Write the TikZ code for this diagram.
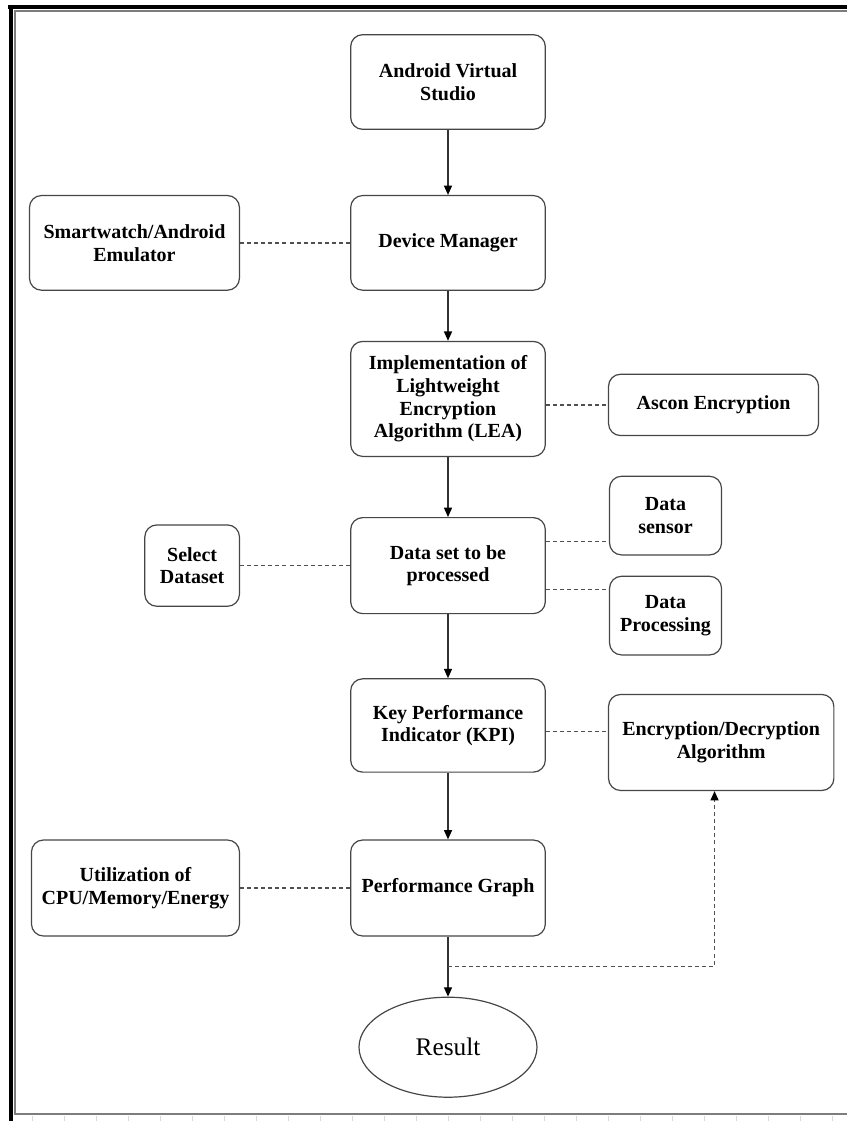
\documentclass[tikz,border=0pt]{standalone}
\usepackage{fontspec}
\setmainfont{Liberation Serif}
\usetikzlibrary{arrows.meta,positioning,shapes.geometric,calc}
\definecolor{cLine}{RGB}{70,70,70}
\definecolor{cDash}{RGB}{80,80,80}
\definecolor{cFrame}{RGB}{125,125,125}
\tikzset{
  box/.style={draw=cLine, line width=0.9pt, rounded corners=9pt, fill=white,
              minimum width=146pt, minimum height=71pt, align=center,
              font=\fontsize{15}{17}\selectfont\bfseries, inner sep=2pt},
  side/.style={box, minimum width=157.5pt},
  small/.style={box, minimum width=84pt, minimum height=59pt},
  res/.style={ellipse, draw=cLine, line width=0.9pt, minimum width=133.5pt,
              minimum height=75pt, font=\fontsize{19}{21}\selectfont},
  arr/.style={-{Triangle[length=7pt,width=6pt,color=black]}, draw=black!80, line width=1pt},
  link/.style={draw=cDash, line width=1.1pt, dash pattern=on 3pt off 2.3pt},
}

\begin{document}
\begin{tikzpicture}
  \useasboundingbox (0,0) rectangle (635.25pt,-840.75pt);

  % frame of the page
  \draw[black, line width=3pt] (6pt,-4.9pt) -- (635.25pt,-4.9pt);
  \draw[black, line width=3pt] (8.25pt,-3.4pt) -- (8.25pt,-840.75pt);
  \draw[cFrame, line width=1.5pt] (635.25pt,-7.9pt) -- (11.6pt,-7.9pt)
       -- (11.6pt,-835.5pt) -- (635.25pt,-835.5pt);
  \foreach \k in {1,...,26} {\draw[black!15, line width=0.6pt] (\k*24pt,-837pt) -- (\k*24pt,-840.75pt);}

  % main column
  \node[box] (avs) at (336pt,-61.5pt) {Android Virtual\\Studio};
  \node[box, below=48.75pt of avs] (dm) {Device Manager};
  \node[box, below=37.5pt of dm, minimum height=86.25pt] (lea)
       {Implementation of\\Lightweight\\Encryption\\Algorithm (LEA)};
  \node[box, below=45pt of lea, minimum height=72pt] (ds) {Data set to be\\processed};
  \node[box, below=48pt of ds, minimum height=70pt] (kpi) {Key Performance\\Indicator (KPI)};
  \node[box, below=50pt of kpi, minimum height=72pt] (pg) {Performance Graph};
  \node[res, below=45pt of pg] (res) {Result};

  % side boxes
  \node[side, left=82.5pt of dm] (sw) {Smartwatch/Android\\Emulator};
  \node[side, right=46.5pt of lea, yshift=-4.5pt, minimum height=46pt] (ascon) {Ascon Encryption};
  \node[box, left=82.5pt of ds, minimum width=71pt, minimum height=61pt] (sel) {Select\\Dataset};
  \node[small, right=47.25pt of ds, yshift=37.5pt] (sensor) {Data\\sensor};
  \node[small, right=47.25pt of ds, yshift=-37.5pt] (proc) {Data\\Processing};
  \node[box, right=46.5pt of kpi, yshift=-12.75pt, minimum width=169pt, minimum height=72pt] (enc)
       {Encryption/Decryption\\Algorithm};
  \node[side, left=82.5pt of pg, minimum width=156pt, minimum height=72pt] (util)
       {Utilization of\\CPU/Memory/Energy};

  % flow
  \draw[arr] (avs) -- (dm);
  \draw[arr] (dm) -- (lea);
  \draw[arr] (lea) -- (ds);
  \draw[arr] (ds) -- (kpi);
  \draw[arr] (kpi) -- (pg);
  \draw[arr] (pg) -- (res);

  % dashed links
  \draw[link] (sw) -- (dm);
  \draw[link] (ascon.west -| lea.east) -- (ascon.west);
  \draw[link] (sel) -- (ds);
  \draw[link] ([yshift=18pt]ds.east) -- ([yshift=18pt]ds.east -| sensor.west);
  \draw[link] ([yshift=-18pt]ds.east) -- ([yshift=-18pt]ds.east -| proc.west);
  \draw[link] ([yshift=-4.5pt]kpi.east) -- ([yshift=-4.5pt]kpi.east -| enc.west);
  \draw[link] (util) -- (pg);
  \coordinate (fb) at ($(pg.south)!0.5!(res.north)$);
  \draw[link, -{Triangle[length=7pt,width=6pt,color=black]}] (fb) -| ([xshift=-5pt]enc.south);
\end{tikzpicture}
\end{document}
